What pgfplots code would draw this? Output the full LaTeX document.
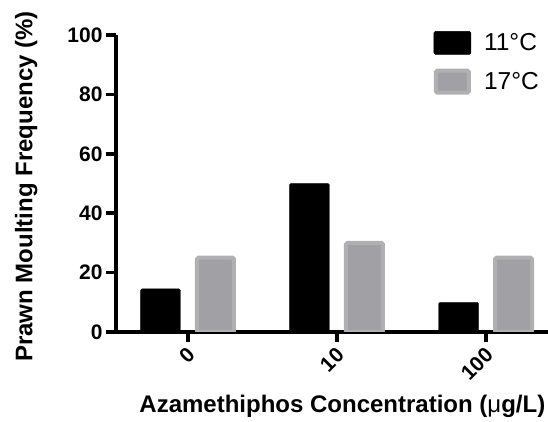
\documentclass[border=0pt]{standalone}
\usepackage{fontspec}
\setmainfont{Liberation Sans}
\usepackage{pgfplots}
\pgfplotsset{compat=1.18}
\usetikzlibrary{calc}
\definecolor{grayfill}{HTML}{A1A0A5}
\definecolor{grayedge}{HTML}{B0B0B0}

\begin{document}
\begin{tikzpicture}
\begin{axis}[
  name=ax,
  scale only axis,
  width=432pt, height=297pt,
  xmin=-0.483, xmax=2.416,
  ymin=0, ymax=100,
  axis lines=left,
  axis line style={line width=3.5pt, -},
  tick align=outside,
  major tick length=10pt,
  tick style={line width=3.5pt, black},
  xtick={0,1,2},
  xticklabels={0,10,100},
  ytick={0,20,...,100},
  /pgf/number format/assume math mode=true,
  tick label style={font=\fontsize{21}{25}\selectfont\bfseries},
  xticklabel style={rotate=45, anchor=east, yshift=-9pt, xshift=-1pt},
  xlabel={Azamethiphos Concentration (\textmd{μ}g/L)},
  ylabel={Prawn Moulting Frequency (\%)},
  label style={font=\fontsize{24}{28}\selectfont\bfseries},
  xlabel style={at={(axis description cs:0.524,-0.2727)}, anchor=base},
  ylabel style={at={(axis description cs:-0.208,0.49)}, anchor=center},
  legend style={at={(rel axis cs:1,1)}, anchor=north east, draw=none, fill=none,
    font=\fontsize{24.5}{29}\selectfont, row sep=14pt, column sep=11pt,
    xshift=-4pt, yshift=6pt},
  legend cell align=left,
]
\addplot[ybar, bar width=40pt, bar shift=-27.5pt, fill=black, draw=black,
  rounded corners=1.5pt,
  legend image code/.code={\fill[black] (0pt,-11.5pt) rectangle (37pt,11.5pt);}]
  coordinates {(0,14.5) (1,50) (2,10)};
\addlegendentry{11°C}
\addplot[ybar, bar width=37pt, bar shift=27.5pt, fill=grayfill, draw=grayedge,
  line width=4pt, rounded corners=1.5pt,
  legend image code/.code={\draw[fill=grayfill, draw=grayedge, line width=4pt] (2pt,-11pt) rectangle (35pt,11pt);}]
  coordinates {(0,25) (1,30) (2,25)};
\addlegendentry{17°C}
\end{axis}
\pgfresetboundingbox
\useasboundingbox ($(ax.south west)+(-116pt,-90pt)$) rectangle ($(ax.north east)+(0pt,35pt)$);
\end{tikzpicture}
\end{document}
